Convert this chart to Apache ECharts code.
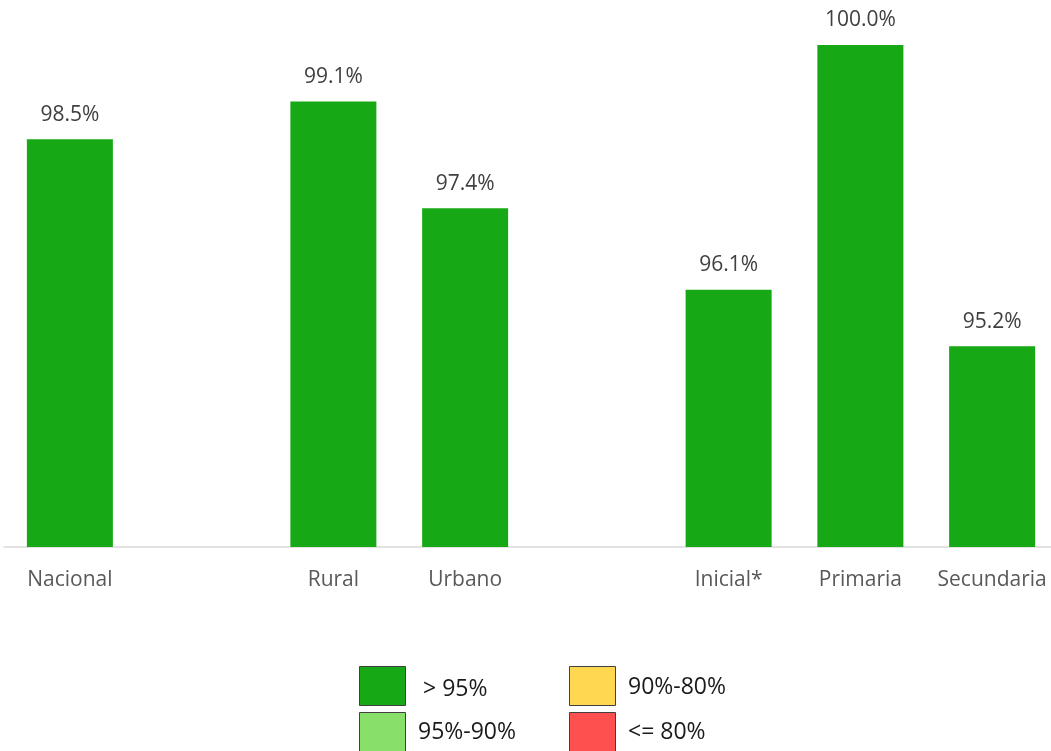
<!DOCTYPE html>
<html>
<head>
<meta charset="utf-8">
<script src="https://cdn.jsdelivr.net/npm/echarts@6/dist/echarts.min.js"></script>
<style>
html,body{margin:0;padding:0;background:#fff;}
#chart{width:1051px;height:751px;}
</style>
</head>
<body>
<div id="chart"></div>
<script>
// Data
const categories = ['Nacional', '', 'Rural', 'Urbano', '', 'Inicial*', 'Primaria', 'Secundaria'];
const values = [98.5, null, 99.1, 97.4, null, 96.1, 100.0, 95.2];
const legendLabels = ['> 95%', '95%-90%', '90%-80%', '<= 80%'];
const legendColors = ['#17A815', '#88E06B', '#FFD750', '#FF5050'];

const FONT = '"Open Sans", "DejaVu Sans", sans-serif';
const chart = echarts.init(document.getElementById('chart'), null, {renderer: 'canvas'});

const legendPos = [
  {bx: 359, by: 666, tx: 423, ty: 689},
  {bx: 359, by: 712, tx: 418, ty: 732},
  {bx: 569, by: 666, tx: 628, ty: 687},
  {bx: 569, by: 712, tx: 628, ty: 732}
];
const graphics = [];
legendLabels.forEach((lab, i) => {
  const p = legendPos[i];
  graphics.push({
    type: 'rect', left: p.bx, top: p.by,
    shape: {width: 46, height: 39},
    style: {fill: legendColors[i], stroke: '#404040', lineWidth: 1}
  });
  graphics.push({
    type: 'text', x: p.tx, y: p.ty,
    style: {text: lab, fill: '#1a1a1a', font: '23px ' + FONT, textVerticalAlign: 'middle'}
  });
});

chart.setOption({
  animation: false,
  backgroundColor: '#ffffff',
  grid: {left: 4, top: 45, width: 1054, height: 502, containLabel: false, outerBoundsMode: 'none'},
  xAxis: {
    type: 'category',
    data: categories,
    axisLine: {lineStyle: {color: '#d9d9d9', width: 1.5}},
    axisTick: {show: false},
    axisLabel: {color: '#595959', fontFamily: FONT, fontSize: 21, margin: 23, interval: 0}
  },
  yAxis: {
    type: 'value', min: 92, max: 100,
    show: false
  },
  series: [{
    type: 'bar',
    data: values.map(v => v === null ? '-' : v),
    barWidth: 86,
    itemStyle: {color: legendColors[0]},
    label: {
      show: true, position: 'top', distance: 14,
      color: '#404040', fontFamily: FONT, fontSize: 21,
      formatter: p => p.value.toFixed(1) + '%'
    }
  }],
  graphic: graphics
});
</script>
</body>
</html>
